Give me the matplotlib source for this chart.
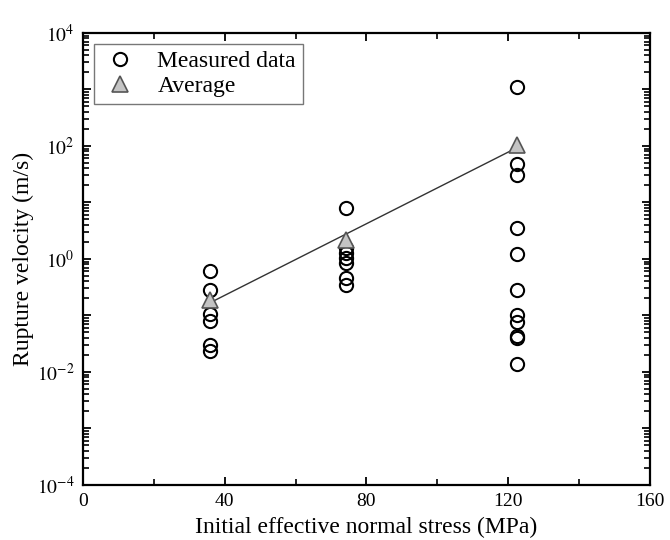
import numpy as np
from matplotlib import pyplot as plt
from matplotlib.ticker import MultipleLocator, FixedLocator, NullFormatter

plt.rcParams['font.family'] = ['Liberation Serif', 'DejaVu Serif']
plt.rcParams['mathtext.fontset'] = 'stix'

# measured rupture velocities (m/s) at each initial effective normal stress (MPa)
stress_low = 35.7
v_low = [0.62, 0.28, 0.105, 0.08, 0.03, 0.023]
stress_mid = 74.3
v_mid = [8.0, 1.57, 1.28, 1.04, 0.85, 0.46, 0.35]
stress_high = 122.5
v_high = [1100, 48, 30, 3.5, 1.2, 0.28, 0.1, 0.075, 0.043, 0.04, 0.014]

avg_stress = [35.7, 74.3, 122.5]
avg_v = [0.19, 2.17, 104]

x_ticks = [0, 40, 80, 120, 160]
y_exp = list(range(-4, 5))
y_tick_labels = ['$10^{-4}$', '', '$10^{-2}$', '', '$10^{0}$', '', '$10^{2}$', '', '$10^{4}$']

fig = plt.figure(figsize=(6.7, 5.4), dpi=100)
ax = fig.add_axes([0.124, 0.102, 0.846, 0.837])

# fitted trend line through the averages (log-linear)
k, b = np.polyfit(avg_stress, np.log10(avg_v), 1)
xf = np.array([avg_stress[0], avg_stress[-1]])
ax.plot(xf, 10 ** (k * xf + b), color='#333333', lw=1.0, zorder=2)

xs = [stress_low] * len(v_low) + [stress_mid] * len(v_mid) + [stress_high] * len(v_high)
vs = v_low + v_mid + v_high
ax.plot(xs, vs, 'o', ls='none', ms=9.5, mfc='none', mec='black', mew=1.5,
        label='Measured data', zorder=3)
ax.plot(avg_stress, avg_v, '^', ls='none', ms=11, mfc='#c4c4c4', mec='#555555', mew=1.2,
        label='Average', zorder=4)

ax.set_yscale('log')
ax.set_xlim(0, 160)
ax.set_ylim(1e-4, 1e4)

ax.xaxis.set_major_locator(FixedLocator(x_ticks))
ax.xaxis.set_minor_locator(MultipleLocator(20))
ax.set_xticklabels([str(t) for t in x_ticks])

ax.yaxis.set_major_locator(FixedLocator([10.0 ** e for e in y_exp]))
ax.set_yticklabels(y_tick_labels)
minor_y = [m * 10.0 ** e for e in y_exp[:-1] for m in range(2, 10)]
ax.yaxis.set_minor_locator(FixedLocator(minor_y))
ax.yaxis.set_minor_formatter(NullFormatter())

ax.tick_params(which='major', direction='in', length=6, width=1.3, top=True, right=True,
               labelsize=14, pad=6)
ax.tick_params(which='minor', direction='in', length=4.5, width=1.2, top=True, right=True,
               left=True, bottom=True)
for s in ax.spines.values():
    s.set_linewidth(1.6)

ax.set_ylabel('Rupture velocity (m/s)', fontsize=17, labelpad=2)
ax.set_xlabel('Initial effective normal stress (MPa)', fontsize=17, labelpad=5)

leg = ax.legend(loc='upper left', fontsize=17, frameon=True, fancybox=False,
                borderaxespad=0.45, handletextpad=0.8, borderpad=0.3, labelspacing=0.15,
                handlelength=1.6)
leg.get_frame().set_edgecolor('#555555')
leg.get_frame().set_linewidth(1.0)

fig.savefig('out.png', dpi=100)
